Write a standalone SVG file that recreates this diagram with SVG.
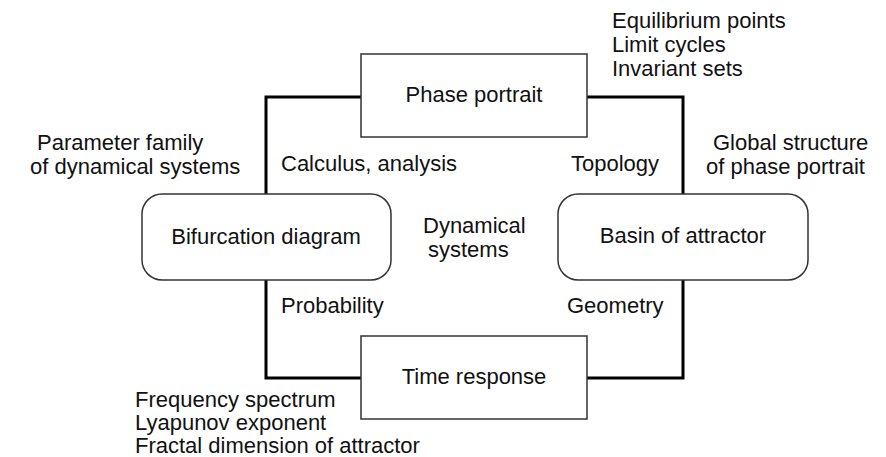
<svg xmlns="http://www.w3.org/2000/svg" width="886" height="457" viewBox="0 0 886 457">
<style>
text{font-family:"Liberation Sans",Arial,sans-serif;font-size:22px;fill:#111}
.c{text-anchor:middle}
.box{fill:#fff;stroke:#333;stroke-width:1.5}
.conn{fill:none;stroke:#000;stroke-width:3}
</style>
<rect width="886" height="457" fill="#fff"/>
<g id="connectors">
<path class="conn" d="M361,97 H266 V194"/>
<path class="conn" d="M266,280 V378 H361"/>
<path class="conn" d="M587,97 H683 V194"/>
<path class="conn" d="M683,280 V378 H587"/>
</g>
<g id="phase-portrait">
<rect class="box" x="361" y="54" width="226" height="83"/>
<text class="c" x="474" y="102">Phase portrait</text>
</g>
<g id="bifurcation-diagram">
<rect class="box" x="142" y="194" width="249" height="86" rx="20" ry="20"/>
<text class="c" x="266" y="244">Bifurcation diagram</text>
</g>
<g id="basin-of-attractor">
<rect class="box" x="558" y="194" width="250" height="86" rx="20" ry="20"/>
<text class="c" x="683" y="243">Basin of attractor</text>
</g>
<g id="time-response">
<rect class="box" x="361" y="336" width="226" height="83"/>
<text class="c" x="474" y="384">Time response</text>
</g>
<g id="labels">
<text x="612" y="28">Equilibrium points</text>
<text x="612" y="52">Limit cycles</text>
<text x="612" y="76">Invariant sets</text>
<text x="37" y="150">Parameter family</text>
<text x="30" y="174">of dynamical systems</text>
<text x="281" y="171">Calculus, analysis</text>
<text x="571" y="171">Topology</text>
<text x="713" y="150">Global structure</text>
<text x="706" y="174">of phase portrait</text>
<text x="423" y="233">Dynamical</text>
<text x="428" y="257">systems</text>
<text x="281" y="313">Probability</text>
<text x="567" y="313">Geometry</text>
<text x="135" y="407">Frequency spectrum</text>
<text x="135" y="430">Lyapunov exponent</text>
<text x="135" y="453">Fractal dimension of attractor</text>
</g>
</svg>
